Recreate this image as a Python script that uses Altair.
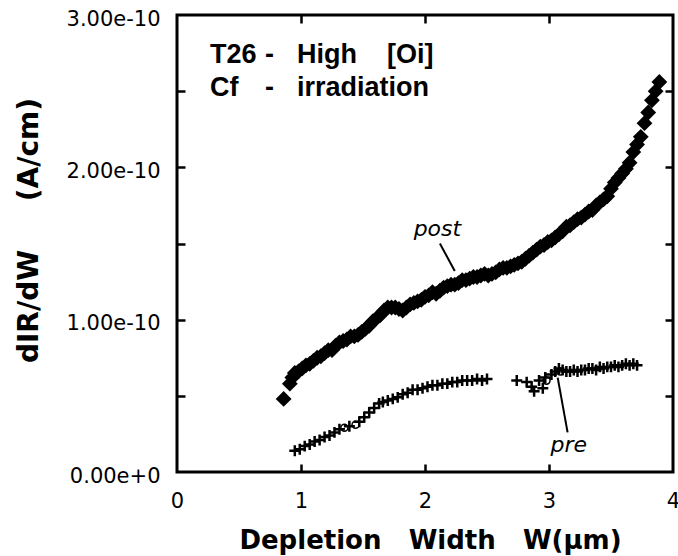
import altair as alt
import pandas as pd

# ---- data (values in units of 1e-10 A/cm) ----
post_w = [0.86, 0.91, 0.93, 0.95, 0.98, 1.01, 1.04, 1.07, 1.10, 1.13, 1.16, 1.19, 1.22, 1.25,
          1.28, 1.31, 1.34, 1.37, 1.40, 1.43, 1.46, 1.49, 1.52, 1.55, 1.58, 1.61, 1.64, 1.67,
          1.70, 1.73, 1.76, 1.79, 1.82, 1.85, 1.88, 1.91, 1.94, 1.97, 2.00, 2.03, 2.06, 2.09,
          2.12, 2.15, 2.18, 2.21, 2.24, 2.27, 2.30, 2.33, 2.36, 2.39, 2.42, 2.45, 2.48, 2.51,
          2.54, 2.57, 2.60, 2.63, 2.66, 2.69, 2.72, 2.75, 2.78, 2.81, 2.84, 2.87, 2.90, 2.93,
          2.96, 2.99, 3.02, 3.05, 3.08, 3.11, 3.14, 3.17, 3.20, 3.23, 3.26, 3.29, 3.32, 3.35,
          3.38, 3.41, 3.44, 3.47, 3.50, 3.53, 3.56, 3.59, 3.62, 3.65, 3.68, 3.71, 3.74, 3.77,
          3.80, 3.83, 3.86, 3.89]
post_v = [0.48, 0.58, 0.62, 0.65, 0.66, 0.68, 0.70, 0.71, 0.73, 0.75, 0.76, 0.78, 0.80, 0.80,
          0.83, 0.85, 0.86, 0.87, 0.89, 0.89, 0.90, 0.92, 0.94, 0.96, 0.99, 1.01, 1.03, 1.06,
          1.08, 1.08, 1.08, 1.07, 1.06, 1.08, 1.10, 1.11, 1.12, 1.13, 1.15, 1.16, 1.18, 1.17,
          1.19, 1.21, 1.22, 1.23, 1.23, 1.24, 1.26, 1.26, 1.27, 1.28, 1.28, 1.29, 1.30, 1.29,
          1.30, 1.31, 1.33, 1.34, 1.34, 1.35, 1.36, 1.37, 1.38, 1.40, 1.42, 1.44, 1.46, 1.48,
          1.49, 1.51, 1.52, 1.54, 1.56, 1.58, 1.61, 1.62, 1.64, 1.66, 1.67, 1.69, 1.71, 1.72,
          1.75, 1.77, 1.79, 1.81, 1.86, 1.90, 1.93, 1.96, 1.99, 2.03, 2.10, 2.15, 2.20, 2.29,
          2.36, 2.44, 2.50, 2.56]

pre_w = [0.95, 0.99, 1.03, 1.07, 1.11, 1.15, 1.19, 1.23, 1.27, 1.31, 1.39, 1.47, 1.51, 1.55,
         1.59, 1.63, 1.66, 1.70, 1.74, 1.78, 1.82, 1.86, 1.90, 1.94, 1.98, 2.02, 2.06, 2.10,
         2.14, 2.18, 2.22, 2.26, 2.30, 2.34, 2.38, 2.42, 2.46, 2.50,
         2.74, 2.82, 2.86, 2.88, 2.92, 2.95, 2.97, 3.02, 3.05, 3.08, 3.11, 3.14, 3.17, 3.20,
         3.23, 3.26, 3.29, 3.32, 3.35, 3.38, 3.41, 3.44, 3.47, 3.50, 3.53, 3.56, 3.59, 3.62,
         3.65, 3.68, 3.71]
pre_v = [0.14, 0.15, 0.17, 0.18, 0.20, 0.21, 0.23, 0.24, 0.26, 0.28, 0.30, 0.33, 0.36, 0.39,
         0.42, 0.45, 0.46, 0.47, 0.48, 0.49, 0.51, 0.52, 0.54, 0.54, 0.55, 0.56, 0.57, 0.57,
         0.58, 0.58, 0.59, 0.59, 0.60, 0.60, 0.60, 0.61, 0.60, 0.61,
         0.60, 0.59, 0.56, 0.53, 0.60, 0.55, 0.62, 0.64, 0.66, 0.68, 0.67, 0.66, 0.66, 0.67,
         0.66, 0.67, 0.67, 0.68, 0.68, 0.67, 0.69, 0.68, 0.69, 0.69, 0.70, 0.69, 0.70, 0.71,
         0.70, 0.71, 0.70]

open_w = [1.35, 1.44, 2.98, 3.09]
open_v = [0.29, 0.31, 0.60, 0.66]

x_labels = [0, 1, 2, 3, 4]
x_inner_ticks = [1, 2, 3]
y_labels = [0.0, 1.0, 2.0, 3.0]
y_inner_ticks = [0.5, 1.0, 1.5, 2.0, 2.5]

series_labels = ["post", "pre"]
series_label_w = [2.10, 3.16]
series_label_v = [1.55, 0.13]

leader_w = [2.12, 3.07]
leader_w2 = [2.24, 3.15]
leader_v = [1.50, 0.62]
leader_v2 = [1.32, 0.26]

NB = "\u00a0"
note_text = ["T26", "-", "High" + NB * 4 + "[Oi]", "Cf", "-", "irradiation"]
note_w = [0.266, 0.71, 0.968, 0.266, 0.71, 0.968]
note_v = [2.686, 2.686, 2.686, 2.469, 2.469, 2.469]

x_title = "Depletion" + NB * 3 + "Width" + NB * 3 + "W(μm)"
y_title = "dIR/dW" + NB * 5 + "(A/cm)"

S = 1e-10
W, H = 496, 457

post = pd.DataFrame({"w": post_w, "v": [v * S for v in post_v]})
pre = pd.DataFrame({"w": pre_w, "v": [v * S for v in pre_v]})
opn = pd.DataFrame({"w": open_w, "v": [v * S for v in open_v]})
lab = pd.DataFrame({"t": series_labels, "w": series_label_w, "v": [v * S for v in series_label_v]})
lead = pd.DataFrame({"w": leader_w, "w2": leader_w2,
                     "v": [v * S for v in leader_v], "v2": [v * S for v in leader_v2]})
note = pd.DataFrame({"t": note_text, "w": note_w, "v": [v * S for v in note_v]})

xs = alt.Scale(domain=[0, 4], nice=False, zero=False)
ys = alt.Scale(domain=[0, 3e-10], nice=False, zero=False)

ax_x_main = alt.Axis(orient="bottom", values=x_labels, ticks=False, domain=False, grid=False,
                     labelFont="DejaVu Sans", labelFontSize=21, labelColor="black",
                     labelPadding=18, labelFlush=False,
                     title=x_title, titleFont="DejaVu Sans",
                     titleFontSize=26, titleFontWeight="bold", titleColor="black",
                     titleX=253, titleY=76, titleAlign="center", titleBaseline="alphabetic")
ax_y_main = alt.Axis(orient="left", values=[v * S for v in y_labels], format=".2e",
                     ticks=False, domain=False, grid=False,
                     labelFont="DejaVu Sans", labelFontSize=21, labelColor="black",
                     labelPadding=17, labelFlush=False, labelOffset=4,
                     title=y_title, titleFont="DejaVu Sans", titleFontSize=28,
                     titleFontWeight="bold", titleColor="black", titleAngle=270,
                     titleX=-140, titleY=215, titleAlign="center", titleBaseline="alphabetic")

def tick_axis(orient, offset, values):
    return alt.Axis(orient=orient, offset=offset, values=values, labels=False, domain=False,
                    grid=False, ticks=True, tickSize=8, tickWidth=2.5, tickColor="black",
                    title=None)

post_layer = alt.Chart(post).mark_point(shape="diamond", filled=True, color="black",
                                        size=250, opacity=1).encode(
    x=alt.X("w:Q", scale=xs, axis=ax_x_main),
    y=alt.Y("v:Q", scale=ys, axis=ax_y_main),
)

pre_layer = alt.Chart(pre).mark_point(shape="M-1,0H1M0,-1V1", filled=False, color="black",
                                      strokeWidth=2.5, size=120, opacity=1).encode(
    x=alt.X("w:Q", scale=xs, axis=tick_axis("top", -H, x_inner_ticks)),
    y=alt.Y("v:Q", scale=ys, axis=tick_axis("right", -W, [v * S for v in y_inner_ticks])),
)

open_layer = alt.Chart(opn).mark_point(shape="circle", filled=False, color="black",
                                       strokeWidth=1.5, size=50, opacity=1).encode(
    x=alt.X("w:Q", scale=xs, axis=tick_axis("bottom", -H, x_inner_ticks)),
    y=alt.Y("v:Q", scale=ys, axis=tick_axis("left", -W, [v * S for v in y_inner_ticks])),
)

label_layer = alt.Chart(lab).mark_text(font="DejaVu Sans", fontSize=22, fontStyle="italic",
                                       align="center", baseline="alphabetic",
                                       color="black").encode(
    x=alt.X("w:Q", scale=xs, axis=None),
    y=alt.Y("v:Q", scale=ys, axis=None),
    text="t:N",
)

lead_layer = alt.Chart(lead).mark_rule(color="black", strokeWidth=2).encode(
    x=alt.X("w:Q", scale=xs, axis=None),
    x2="w2:Q",
    y=alt.Y("v:Q", scale=ys, axis=None),
    y2="v2:Q",
)

note_layer = alt.Chart(note).mark_text(font="Liberation Sans", fontSize=27, fontWeight="bold",
                                       align="left", baseline="alphabetic",
                                       color="black").encode(
    x=alt.X("w:Q", scale=xs, axis=None),
    y=alt.Y("v:Q", scale=ys, axis=None),
    text="t:N",
)

chart = alt.layer(post_layer, pre_layer, open_layer, label_layer, lead_layer, note_layer).resolve_axis(
    x="independent", y="independent"
).properties(
    width=W, height=H,
    autosize=alt.AutoSizeParams(type="none"),
    padding={"left": 177, "top": 15, "right": 5, "bottom": 84},
    background="white",
).configure_view(stroke="black", strokeWidth=3)

chart.save("out.html", embed_options={"renderer": "svg", "actions": False})
